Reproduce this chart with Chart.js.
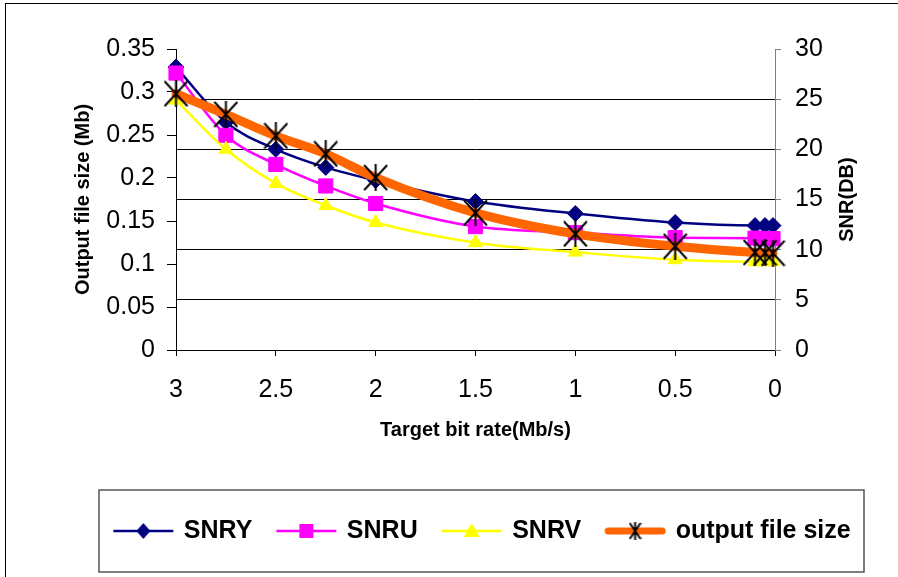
<!DOCTYPE html>
<html>
<head>
<meta charset="utf-8">
<script src="https://cdn.jsdelivr.net/npm/chart.js@4/dist/chart.umd.min.js"></script>
<style>
  html, body { margin: 0; padding: 0; background: #fff; overflow: hidden; }
  #wrap { position: relative; width: 898px; height: 577px; overflow: hidden; }
  #frame { position: absolute; left: 5px; top: 3px; width: 1000px; height: 700px; border: 1.5px solid #000; }
  #wrap canvas { position: absolute; left: 0; top: 0; }
</style>
</head>
<body>
<div id="wrap"><div id="frame"></div><canvas id="chart"></canvas></div>
<script>
// target bit rate (Mb/s)
const rates = [3, 2.75, 2.5, 2.25, 2, 1.5, 1, 0.5, 0.1, 0.05, 0.01];
// SNR in dB (right axis)
const snrY = [28.2, 22.7, 20.0, 18.2, 16.9, 14.8, 13.6, 12.7, 12.4, 12.4, 12.4];
const snrU = [27.6, 21.4, 18.5, 16.35, 14.6, 12.3, 11.7, 11.2, 11.15, 11.1, 11.1];
const snrV = [24.9, 20.0, 16.6, 14.4, 12.7, 10.7, 9.76, 9.0, 8.8, 8.8, 8.8];
// output file size in Mb (left axis)
const fileSize = [0.298, 0.274, 0.249, 0.228, 0.2005, 0.1595, 0.135, 0.1206, 0.1135, 0.113, 0.1125];

const xTickVals = [3, 2.5, 2, 1.5, 1, 0.5, 0];
const sizeTickVals = [0, 0.05, 0.1, 0.15, 0.2, 0.25, 0.3, 0.35];
const snrTickVals = [0, 5, 10, 15, 20, 25, 30];

const FONT = 'Liberation Sans, Arial, sans-serif';

function pts(vals) {
    return vals.map((v, i) => ({ x: rates[i], y: v }));
}

function asterisk(w, h, lw) {
    const c = document.createElement('canvas');
    c.width = w; c.height = h;
    const g = c.getContext('2d');
    g.strokeStyle = '#000';
    g.lineWidth = lw;
    g.beginPath();
    g.moveTo(1, 1); g.lineTo(w - 1, h - 1);
    g.moveTo(w - 1, 1); g.lineTo(1, h - 1);
    g.moveTo(w / 2, 0); g.lineTo(w / 2, h);
    g.stroke();
    return c;
}

// legend icon: line with the marker in the middle
function icon(color, lw, mark) {
    const c = document.createElement('canvas');
    c.width = 62; c.height = 26;
    const g = c.getContext('2d');
    g.strokeStyle = color;
    g.lineWidth = lw;
    g.lineCap = lw > 4 ? 'round' : 'butt';
    g.beginPath();
    g.moveTo(lw > 4 ? 4 : 1, 13); g.lineTo(lw > 4 ? 58 : 61, 13);
    g.stroke();
    g.fillStyle = color;
    mark(g, 31, 13);
    return c;
}

const starPoint = asterisk(25, 27, 2);
const starLegend = asterisk(13, 18, 2);

const legendIcons = [
    icon('#000080', 2.5, (g, x, y) => { g.beginPath(); g.moveTo(x, y - 8); g.lineTo(x + 7, y); g.lineTo(x, y + 8); g.lineTo(x - 7, y); g.fill(); }),
    icon('#FF00FF', 2.5, (g, x, y) => g.fillRect(x - 7, y - 7, 14, 14)),
    icon('#FFFF00', 2.5, (g, x, y) => { g.beginPath(); g.moveTo(x, y - 8); g.lineTo(x + 8, y + 6); g.lineTo(x - 8, y + 6); g.fill(); }),
    icon('#FF6600', 7, (g, x, y) => g.drawImage(starLegend, x - 6.5, y - 9))
];

const frameBits = {
    id: 'frameBits',
    afterLayout(chart) {
        // centre the legend row on its box instead of the whole canvas
        const lg = chart.legend;
        lg.left = 86; lg.right = 880; lg.width = 794;
    },
    afterDraw(chart) {
        const ctx = chart.ctx, a = chart.chartArea;
        ctx.save();
        ctx.strokeStyle = '#555';
        ctx.lineWidth = 1.5;
        ctx.strokeRect(99, 490, 765, 82);
        ctx.fillStyle = '#000';
        ctx.font = 'bold 20px ' + FONT;
        ctx.textAlign = 'center';
        ctx.textBaseline = 'middle';
        ctx.translate(847, (a.top + a.bottom) / 2);
        ctx.rotate(-Math.PI / 2);
        ctx.fillText('SNR(DB)', 0, 0);
        ctx.restore();
    }
};

const common = { cubicInterpolationMode: 'monotone', clip: false, pointBorderWidth: 1 };

new Chart(document.getElementById('chart'), {
    type: 'line',
    data: {
        datasets: [
            { ...common, label: 'SNRY', data: pts(snrY), yAxisID: 'ySnr', order: 4,
              borderColor: '#000080', backgroundColor: '#000080', borderWidth: 2.5,
              pointStyle: 'rectRot', pointRadius: 8 },
            { ...common, label: 'SNRU', data: pts(snrU), yAxisID: 'ySnr', order: 3,
              borderColor: '#FF00FF', backgroundColor: '#FF00FF', borderWidth: 2.5,
              pointStyle: 'rect', pointRadius: 10 },
            { ...common, label: 'SNRV', data: pts(snrV), yAxisID: 'ySnr', order: 2,
              borderColor: '#FFFF00', backgroundColor: '#FFFF00', borderWidth: 2.5,
              pointStyle: 'triangle', pointRadius: 8 },
            { ...common, label: 'output file size', data: pts(fileSize), yAxisID: 'ySize', order: 1,
              borderColor: '#FF6600', backgroundColor: '#FF6600', borderWidth: 9,
              borderCapStyle: 'round', pointStyle: starPoint, pointRadius: 13 }
        ]
    },
    options: {
        responsive: true,
        maintainAspectRatio: false,
        animation: false,
        events: [],
        layout: { padding: { top: 49, bottom: 23.5, left: 0, right: 0 } },
        scales: {
            x: {
                type: 'linear', reverse: true, min: 0, max: 3,
                afterBuildTicks: s => { s.ticks = xTickVals.map(v => ({ value: v })); },
                afterFit: s => { s.height = 142.5; },
                border: { color: '#000', width: 1 },
                grid: { drawOnChartArea: false, tickLength: 6, tickColor: '#000' },
                ticks: { color: '#000', padding: 19, font: { family: FONT, size: 25 },
                         callback: v => String(+v) },
                title: { display: true, text: 'Target bit rate(Mb/s)', color: '#000',
                         padding: { top: 0, bottom: 50.5 }, font: { family: FONT, size: 20, weight: 'bold' } }
            },
            ySize: {
                position: 'left', min: 0, max: 0.35,
                afterBuildTicks: s => { s.ticks = sizeTickVals.map(v => ({ value: v })); },
                afterFit: s => { s.width = 176; },
                border: { color: '#000', width: 1 },
                grid: { drawOnChartArea: false, tickLength: 9, tickColor: '#000' },
                ticks: { color: '#000', padding: 12, font: { family: FONT, size: 25 },
                         callback: v => String(+v.toFixed(2)) },
                title: { display: true, text: 'Output file size (Mb)', color: '#000',
                         padding: { top: 71, bottom: 0 }, font: { family: FONT, size: 20, weight: 'bold' } }
            },
            ySnr: {
                position: 'right', min: 0, max: 30,
                afterBuildTicks: s => { s.ticks = snrTickVals.map(v => ({ value: v })); },
                afterFit: s => { s.width = 123; },
                border: { color: '#808080', width: 1 },
                grid: {
                    color: c => (c.tick && (c.tick.value === 0 || c.tick.value === 30)) ? 'rgba(0,0,0,0)' : '#000',
                    tickColor: '#808080', tickLength: 6, lineWidth: 1
                },
                ticks: { color: '#000', padding: 14, font: { family: FONT, size: 25 } }
            }
        },
        plugins: {
            tooltip: { enabled: false },
            legend: {
                position: 'bottom',
                labels: {
                    usePointStyle: true,
                    pointStyleWidth: 56,
                    padding: 26,
                    color: '#000',
                    font: { family: FONT, size: 25, weight: 'bold' },
                    generateLabels: chart => chart.data.datasets.map((ds, i) => ({
                        text: ds.label, datasetIndex: i, pointStyle: legendIcons[i],
                        fillStyle: 'rgba(0,0,0,0)', strokeStyle: 'rgba(0,0,0,0)', lineWidth: 0,
                        fontColor: '#000', hidden: false
                    }))
                }
            }
        }
    },
    plugins: [frameBits]
});
</script>
</body>
</html>
